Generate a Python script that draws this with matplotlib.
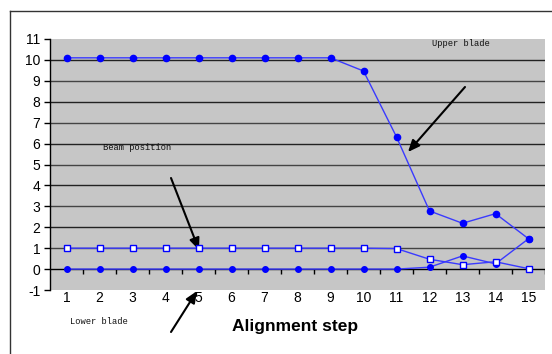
import matplotlib
matplotlib.use("Agg")
import matplotlib.pyplot as plt
from matplotlib.lines import Line2D

plt.rcParams["font.family"] = ["Liberation Sans Narrow", "Liberation Sans", "DejaVu Sans"]

steps = list(range(1, 16))
upper_blade = [10.1, 10.1, 10.1, 10.1, 10.1, 10.1, 10.1, 10.1, 10.1, 9.47, 6.32, 2.78, 2.19, 2.65, 1.45]
beam_pos = [1.0, 1.0, 1.0, 1.0, 1.0, 1.0, 1.0, 1.0, 1.0, 1.0, 0.98, 0.47, 0.21, 0.35, 0.02]
lower_blade = [0.0, 0.0, 0.0, 0.0, 0.0, 0.0, 0.0, 0.0, 0.0, 0.0, 0.0, 0.09, 0.63, 0.25, 1.45]
y_ticks = list(range(-1, 12))

W, H = 552, 354
fig = plt.figure(figsize=(W / 100, H / 100), dpi=100)
fig.patch.set_facecolor("white")

# plot area in pixels: left 50, right 545, top 39, bottom 290
ax = fig.add_axes([50 / W, (H - 290) / H, 495 / W, 251 / H])
ax.set_facecolor("#c6c6c6")
ax.set_xlim(0.5, 15.5)
ax.set_ylim(-1, 11)

# gridlines
for v in range(1, 11):
    ax.axhline(v, color="#222222" if v % 2 == 0 else "#444444", lw=1.0, zorder=1)
ax.axhline(0, color="black", lw=1.0, zorder=1)
# category ticks hanging from the zero line
ax.vlines([s + 0.5 for s in steps], -0.25, 0, color="black", lw=1.0, zorder=1)

blue = "#0000ff"
line_blue = "#3a3aff"
ax.plot(steps, upper_blade, color=line_blue, lw=1.0, marker="o", ms=4.5,
        mfc=blue, mec=blue, zorder=3)
ax.plot(steps, lower_blade, color=line_blue, lw=1.0, marker="o", ms=4.0,
        mfc=blue, mec=blue, zorder=3)
ax.plot(steps, beam_pos, color=line_blue, lw=1.0, marker="s", ms=5.0,
        mfc="white", mec=blue, mew=1.0, zorder=4)

for s in ["top", "right", "bottom"]:
    ax.spines[s].set_visible(False)
ax.spines["left"].set_color("black")
ax.spines["left"].set_linewidth(1.0)

ax.set_yticks(y_ticks)
ax.set_yticklabels([str(v) for v in y_ticks], fontsize=10)
ax.tick_params(axis="y", direction="out", length=4, width=1, pad=3)
ax.set_xticks(steps)
ax.set_xticklabels([str(s) for s in steps], fontsize=10)
ax.tick_params(axis="x", length=0, pad=1)

# outer frame (left and top edges)
fig.add_artist(Line2D([10 / W, 10 / W], [0, (H - 11) / H], color="#333333", lw=1.0,
                      transform=fig.transFigure))
fig.add_artist(Line2D([10 / W, 1], [(H - 11) / H, (H - 11) / H], color="#333333", lw=1.0,
                      transform=fig.transFigure))

def px(x, y):
    return (x, H - y)

small = dict(fontsize=6.3, ha="center", va="center",
             family=["Liberation Mono", "DejaVu Sans Mono"], color="#111111")
fig.text(461 / W, (H - 43) / H, "Upper blade", **small)
fig.text(137 / W, (H - 147) / H, "Beam position", **small)
fig.text(99 / W, (H - 322) / H, "Lower blade", **small)
fig.text(295 / W, (H - 327) / H, "Alignment step", fontsize=12.5, fontweight="bold",
         ha="center", va="center")

arrows = [((465, 87), (408, 152)), ((171, 178), (199, 250)), ((171, 332), (197, 291))]
for start, tip in arrows:
    ax.annotate("", xy=px(*tip), xycoords="figure pixels",
                xytext=px(*start), textcoords="figure pixels",
                arrowprops=dict(arrowstyle="-|>,head_length=0.7,head_width=0.3",
                                color="black", lw=1.5, shrinkA=0, shrinkB=0),
                annotation_clip=False)

fig.savefig("out.png", dpi=100)
